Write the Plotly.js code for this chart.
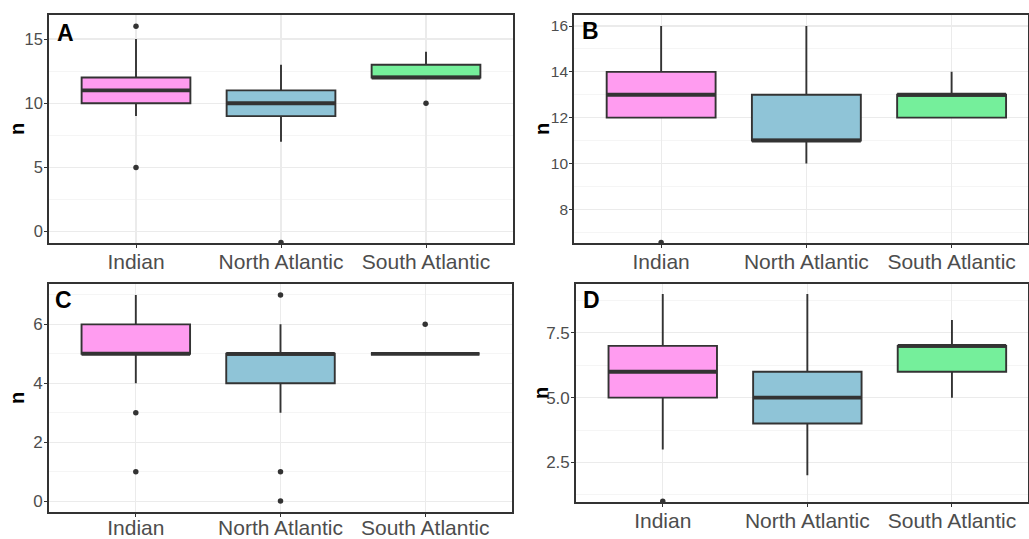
<!DOCTYPE html>
<html>
<head>
<meta charset="utf-8">
<script src="https://cdn.plot.ly/plotly-3.0.1.min.js"></script>
<style>html,body{margin:0;padding:0;background:#fff}#chart{width:1029px;height:539px}</style>
</head>
<body>
<div id="chart"></div>
<script>
const categories = ['Indian', 'North Atlantic', 'South Atlantic'];
const boxColors = ['#FF9CF0', '#8FC4D7', '#75EF9B'];

// Panel A
const aQ1 = [10, 9, 12];
const aMedian = [11, 10, 12];
const aQ3 = [12, 11, 13];
const aLow = [9, 7, 12];
const aHigh = [15, 13, 14];
const aOutX = ['Indian', 'Indian', 'North Atlantic', 'South Atlantic'];
const aOutY = [16, 5, -0.85, 10];

// Panel B
const bQ1 = [12, 11, 12];
const bMedian = [13, 11, 13];
const bQ3 = [14, 13, 13];
const bLow = [12, 10, 12];
const bHigh = [16, 16, 14];
const bOutX = ['Indian'];
const bOutY = [6.55];

// Panel C
const cQ1 = [5, 4, 5];
const cMedian = [5, 5, 5];
const cQ3 = [6, 5, 5];
const cLow = [4, 3, 5];
const cHigh = [7, 6, 5];
const cOutX = ['Indian', 'Indian', 'North Atlantic', 'North Atlantic', 'North Atlantic', 'South Atlantic'];
const cOutY = [3, 1, 7, 1, 0, 6];

// Panel D
const dQ1 = [5, 4, 6];
const dMedian = [6, 5, 7];
const dQ3 = [7, 6, 7];
const dLow = [3, 2, 5];
const dHigh = [9, 9, 8];
const dOutX = ['Indian'];
const dOutY = [1];

// Tick labels
const aTicks = [0, 5, 10, 15];
const aTickText = ['0', '5', '10', '15'];
const bTicks = [8, 10, 12, 14, 16];
const bTickText = ['8', '10', '12', '14', '16'];
const cTicks = [0, 2, 4, 6];
const cTickText = ['0', '2', '4', '6'];
const dTicks = [2.5, 5, 7.5];
const dTickText = ['2.5', '5.0', '7.5'];

const panelLetters = ['A', 'B', 'C', 'D'];

const LINE = '#333333';
const traces = [];

function addPanel(ax, q1, med, q3, lo, hi, outX, outY) {
  const xa = 'x' + (ax === 1 ? '' : ax);
  const ya = 'y' + (ax === 1 ? '' : ax);
  for (let i = 0; i < categories.length; i++) {
    traces.push({
      type: 'box', xaxis: xa, yaxis: ya,
      x: [categories[i]], q1: [q1[i]], median: [med[i]], q3: [q3[i]],
      lowerfence: [lo[i]], upperfence: [hi[i]],
      width: 0.75, whiskerwidth: 0,
      fillcolor: boxColors[i],
      line: {color: LINE, width: 1.9},
      hoverinfo: 'skip', showlegend: false
    });
  }
  // thick median line overlay
  traces.push({
    type: 'box', xaxis: xa, yaxis: ya,
    x: categories, q1: med, median: med, q3: med,
    lowerfence: med, upperfence: med,
    width: 0.75, whiskerwidth: 0,
    fillcolor: 'rgba(0,0,0,0)',
    line: {color: LINE, width: 3.8},
    hoverinfo: 'skip', showlegend: false
  });
  traces.push({
    type: 'scatter', mode: 'markers', xaxis: xa, yaxis: ya,
    x: outX, y: outY,
    marker: {color: LINE, size: 5.5},
    hoverinfo: 'skip', showlegend: false
  });
}

addPanel(1, aQ1, aMedian, aQ3, aLow, aHigh, aOutX, aOutY);
addPanel(2, bQ1, bMedian, bQ3, bLow, bHigh, bOutX, bOutY);
addPanel(3, cQ1, cMedian, cQ3, cLow, cHigh, cOutX, cOutY);
addPanel(4, dQ1, dMedian, dQ3, dLow, dHigh, dOutX, dOutY);

const W = 1029, H = 539;
const FONT = 'Liberation Sans, Arial, Helvetica, sans-serif';

function xAxis(left, right, xmax, standoff) {
  return {
    domain: [left / W, right / W],
    type: 'category', categoryorder: 'array', categoryarray: categories,
    range: [-0.6, xmax],
    showline: true, mirror: true, linecolor: LINE, linewidth: 1.8,
    showgrid: true, gridcolor: '#EBEBEB', gridwidth: 1.1,
    ticks: 'outside', ticklen: 3, tickcolor: LINE, tickwidth: 1,
    ticklabelstandoff: standoff,
    tickfont: {family: FONT, size: 21, color: '#4D4D4D'},
    zeroline: false, fixedrange: true
  };
}
function yAxis(top, bottom, range, tv, tt, minorStep, fs) {
  return {
    domain: [1 - bottom / H, 1 - top / H],
    range: range,
    tickmode: 'array', tickvals: tv, ticktext: tt,
    showline: true, mirror: true, linecolor: LINE, linewidth: 1.8,
    showgrid: true, gridcolor: '#EBEBEB', gridwidth: 1.1,
    minor: {dtick: minorStep, tick0: tv[0] - minorStep, showgrid: true, gridcolor: '#F2F2F2', gridwidth: 0.8, ticks: ''},
    ticks: 'outside', ticklen: 3, tickcolor: LINE, tickwidth: 1,
    ticklabelstandoff: -2,
    tickfont: {family: FONT, size: fs, color: '#4D4D4D'},
    zeroline: false, fixedrange: true
  };
}

const layout = {
  width: W, height: H,
  margin: {l: 0, r: 0, t: 0, b: 0},
  paper_bgcolor: '#FFFFFF', plot_bgcolor: '#FFFFFF',
  boxmode: 'overlay',
  font: {family: FONT},
  xaxis: Object.assign(xAxis(49, 513, 2.6, -4), {anchor: 'y'}),
  yaxis: Object.assign(yAxis(15, 243, [-0.88, 16.87], aTicks, aTickText, 2.5, 16.5), {anchor: 'x'}),
  xaxis2: Object.assign(xAxis(574, 1028, 2.526, -4), {anchor: 'y2'}),
  yaxis2: Object.assign(yAxis(15, 243, [6.53, 16.48], bTicks, bTickText, 1, 15.5), {anchor: 'x2'}),
  xaxis3: Object.assign(xAxis(49, 512, 2.6, -7), {anchor: 'y3'}),
  yaxis3: Object.assign(yAxis(284, 512, [-0.37, 7.37], cTicks, cTickText, 1, 17), {anchor: 'x3'}),
  xaxis4: Object.assign(xAxis(576, 1028, 2.526, -4), {anchor: 'y4'}),
  yaxis4: Object.assign(yAxis(284, 502, [0.97, 9.39], dTicks, dTickText, 1.25, 17), {anchor: 'x4'}),
  annotations: []
};

// letter centres
const letterPos = [[65.5, 32.5], [590, 30.5], [63.5, 299.5], [591.5, 299.5]];
panelLetters.forEach((L, i) => {
  layout.annotations.push({
    text: '<b>' + L + '</b>', xref: 'paper', yref: 'paper',
    x: letterPos[i][0] / W, y: 1 - letterPos[i][1] / H,
    xanchor: 'center', yanchor: 'middle', showarrow: false,
    font: {family: FONT, size: 23, color: '#000000'}
  });
});
const nPos = [[17, 129], [542, 129], [17, 398], [541, 393]];
nPos.forEach(p => {
  layout.annotations.push({
    text: '<b>n</b>', xref: 'paper', yref: 'paper',
    x: p[0] / W, y: 1 - p[1] / H, xanchor: 'center', yanchor: 'middle',
    textangle: -90, showarrow: false,
    font: {family: FONT, size: 20, color: '#000000'}
  });
});

Plotly.newPlot('chart', traces, layout, {staticPlot: true, displayModeBar: false});
</script>
</body>
</html>
